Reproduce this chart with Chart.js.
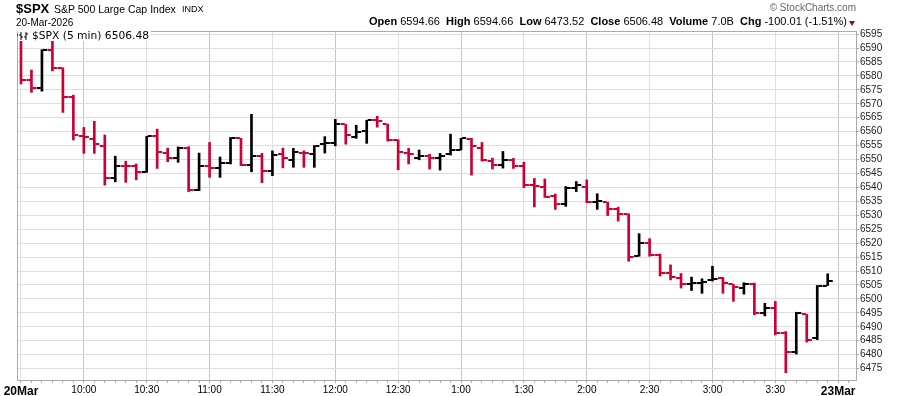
<!DOCTYPE html>
<html>
<head>
<meta charset="utf-8">
<title>$SPX 5 min</title>
<script src="https://cdn.jsdelivr.net/npm/chart.js"></script>
<style>
  body { margin: 0; background: #fff; }
  #wrap { position: relative; width: 900px; height: 396px; font-family: "Liberation Sans", Arial, sans-serif; color: #000; }
  #wrap canvas { position: absolute; left: 0; top: 0; }
  .txt { position: absolute; white-space: nowrap; line-height: 1; }
  #sym { left: 16px; top: 2px; font-size: 13px; font-weight: bold; }
  #name { left: 54px; top: 3.5px; font-size: 10.5px; }
  #exch { left: 182px; top: 5px; font-size: 9px; }
  #date { left: 16px; top: 17.5px; font-size: 10px; }
  #quote { right: 53px; top: 16px; font-size: 11px; }
  #quote b { font-weight: bold; }
  #tri { position: absolute; left: 849px; top: 21px; width: 0; height: 0; border-left: 3.5px solid transparent; border-right: 3.5px solid transparent; border-top: 5px solid #a4002a; }
  #copy { right: 44px; top: 3px; font-size: 10px; color: #666; }
  #legend { left: 18px; top: 31px; height: 10px; padding-right: 2px; background: #fff; font-family: "DejaVu Sans", Verdana, sans-serif; font-size: 10.7px; line-height: 10px; }
  #legend svg { vertical-align: top; margin-right: 2px; }
</style>
</head>
<body>
<div id="wrap">
  <canvas id="ohlcChart" width="900" height="396"></canvas>
  <div class="txt" id="sym">$SPX</div>
  <div class="txt" id="name">S&amp;P 500 Large Cap Index</div>
  <div class="txt" id="exch">INDX</div>
  <div class="txt" id="date">20-Mar-2026</div>
  <div class="txt" id="copy">&copy; StockCharts.com</div>
  <div class="txt" id="quote"><b>Open</b> 6594.66&nbsp; <b>High</b> 6594.66&nbsp; <b>Low</b> 6473.52&nbsp; <b>Close</b> 6506.48&nbsp; <b>Volume</b> 7.0B&nbsp; <b>Chg</b> -100.01 (-1.51%)</div>
  <div id="tri"></div>
  <div class="txt" id="legend"><svg width="12" height="10"><path d="M3 1v8M1 4h2M3 6h2M8 1v8M6 6h2M8 3h2" stroke="#000" stroke-width="1" fill="none"/></svg>$SPX (5 min) 6506.48</div>
</div>
<script>
  // 5 minute bars, 9:30 to 3:55, index 0..77
  const opens = [
    6594.66, 6578.6, 6575.7, 6589.4, 6582.7, 6572.5, 6558.3, 6557.3, 6554.9, 6543.2,
    6547.8, 6547.6, 6545.6, 6558.3, 6552.2, 6550.7, 6554.0, 6539.1, 6547.8, 6546.8,
    6548.6, 6557.6, 6548.0, 6551.1, 6546.0, 6551.8, 6549.9, 6552.4, 6552.0, 6555.5,
    6556.1, 6562.6, 6558.2, 6560.1, 6564.0, 6562.6, 6557.1, 6552.5, 6550.4, 6551.1,
    6550.4, 6551.8, 6553.5, 6557.3, 6554.3, 6549.6, 6548.2, 6549.9, 6547.5, 6540.8,
    6540.3, 6537.0, 6534.1, 6539.6, 6540.3, 6534.7, 6534.7, 6532.3, 6530.4, 6515.3,
    6519.9, 6515.6, 6509.4, 6507.4, 6505.4, 6505.8, 6506.6, 6507.4, 6505.2, 6503.9,
    6505.5, 6494.9, 6496.7, 6487.6, 6481.1, 6494.5, 6485.9, 6504.8
  ];
  const highs = [
    6594.66, 6582.1, 6589.4, 6592.8, 6582.9, 6573.1, 6561.5, 6563.7, 6558.8, 6551.2,
    6549.4, 6548.4, 6558.3, 6560.9, 6554.1, 6554.5, 6554.6, 6552.3, 6556.1, 6550.9,
    6557.9, 6557.6, 6566.2, 6552.2, 6553.1, 6554.1, 6554.0, 6553.1, 6555.0, 6558.2,
    6564.4, 6562.6, 6562.3, 6564.1, 6565.5, 6562.7, 6557.1, 6554.0, 6553.4, 6551.9,
    6552.2, 6559.1, 6557.6, 6557.6, 6556.1, 6550.5, 6552.9, 6550.4, 6549.0, 6543.2,
    6543.0, 6537.6, 6540.3, 6542.1, 6542.7, 6537.7, 6534.7, 6532.9, 6530.5, 6523.4,
    6521.6, 6516.1, 6512.2, 6509.1, 6507.8, 6507.2, 6511.7, 6507.7, 6505.3, 6505.8,
    6505.7, 6498.4, 6499.1, 6488.3, 6495.2, 6494.5, 6504.8, 6509.0
  ];
  const lows = [
    6577.1, 6574.1, 6574.5, 6581.8, 6566.9, 6557.0, 6552.2, 6552.2, 6540.8, 6542.0,
    6541.8, 6542.7, 6545.4, 6546.8, 6549.2, 6549.0, 6538.5, 6538.8, 6543.6, 6543.6,
    6548.4, 6547.8, 6545.6, 6541.7, 6544.2, 6547.0, 6547.2, 6547.2, 6547.2, 6552.3,
    6554.9, 6555.5, 6557.6, 6555.8, 6561.6, 6556.6, 6546.3, 6548.4, 6549.9, 6546.6,
    6546.2, 6551.6, 6553.4, 6544.4, 6549.4, 6546.6, 6546.9, 6546.8, 6539.9, 6533.0,
    6536.4, 6532.1, 6533.2, 6538.5, 6534.5, 6532.1, 6529.9, 6527.9, 6513.5, 6515.3,
    6515.3, 6508.2, 6506.8, 6503.9, 6503.0, 6502.0, 6506.4, 6502.0, 6499.1, 6501.7,
    6494.3, 6493.9, 6487.1, 6473.52, 6480.2, 6484.5, 6485.4, 6504.8
  ];
  const closes = [
    6578.6, 6575.7, 6589.4, 6583.0, 6572.5, 6558.8, 6557.9, 6555.5, 6543.2, 6547.8,
    6547.6, 6545.6, 6558.3, 6552.8, 6550.7, 6554.1, 6539.1, 6547.8, 6546.8, 6548.6,
    6557.8, 6548.0, 6551.3, 6546.0, 6551.6, 6550.4, 6552.6, 6552.2, 6555.0, 6556.1,
    6562.6, 6558.8, 6560.0, 6564.0, 6563.7, 6557.1, 6552.8, 6552.0, 6551.1, 6550.4,
    6551.3, 6553.5, 6557.6, 6554.7, 6549.7, 6548.2, 6549.8, 6547.8, 6540.8, 6540.5,
    6536.6, 6534.1, 6539.9, 6540.7, 6534.7, 6535.1, 6532.3, 6530.4, 6515.2, 6519.9,
    6515.8, 6509.4, 6507.7, 6505.5, 6505.6, 6506.0, 6507.2, 6505.8, 6504.2, 6505.5,
    6494.9, 6496.7, 6487.6, 6481.1, 6495.0, 6485.2, 6504.6, 6506.48
  ];
  // one label every 6 bars (30 min)
  const timeLabels = ['20Mar', '10:00', '10:30', '11:00', '11:30', '12:00', '12:30',
                      '1:00', '1:30', '2:00', '2:30', '3:00', '3:30', '23Mar'];

  const RED = '#cc0033';
  const BLACK = '#000000';
  const barColors = closes.map((c, i) => c < opens[i] ? RED : BLACK);

  // little open/close tick images, drawn centered on the bar's x
  function tickImage(color, side) {
    const c = document.createElement('canvas');
    c.width = 14; c.height = 2;
    const g = c.getContext('2d');
    g.fillStyle = color;
    g.fillRect(side === 'left' ? 2 : 8, 0, 4, 2);
    return c;
  }
  const openTick = { [RED]: tickImage(RED, 'left'), [BLACK]: tickImage(BLACK, 'left') };
  const closeTick = { [RED]: tickImage(RED, 'right'), [BLACK]: tickImage(BLACK, 'right') };

  const tickVal = ctx => (ctx && ctx.tick ? ctx.tick.value : NaN);

  // left and top edges of the plot frame
  const frame = {
    id: 'frame',
    beforeDatasetsDraw(chart) {
      const { ctx, chartArea: a } = chart;
      ctx.save();
      ctx.strokeStyle = '#aaaaaa';
      ctx.lineWidth = 1;
      ctx.beginPath();
      ctx.moveTo(a.left + 0.5, a.bottom);
      ctx.lineTo(a.left + 0.5, a.top + 0.5);
      ctx.lineTo(a.right, a.top + 0.5);
      ctx.stroke();
      ctx.restore();
    }
  };

  new Chart(document.getElementById('ohlcChart'), {
    data: {
      datasets: [
        {
          type: 'scatter',
          label: 'open',
          data: opens.map((o, i) => ({ x: i, y: o })),
          pointStyle: barColors.map(c => openTick[c]),
          pointRadius: 1,
          order: 1
        },
        {
          type: 'scatter',
          label: 'close',
          data: closes.map((c, i) => ({ x: i, y: c })),
          pointStyle: barColors.map(c => closeTick[c]),
          pointRadius: 1,
          order: 1
        },
        {
          type: 'bar',
          label: 'range',
          data: lows.map((l, i) => ({ x: i, y: [l, highs[i]] })),
          backgroundColor: barColors,
          borderWidth: 0,
          barThickness: 2,
          order: 2
        }
      ]
    },
    options: {
      responsive: false,
      animation: false,
      devicePixelRatio: 1,
      events: [],
      layout: { padding: { left: 17, top: 31, right: 0, bottom: 0 } },
      plugins: { legend: { display: false }, tooltip: { enabled: false } },
      scales: {
        x: {
          type: 'linear',
          min: -0.38,
          max: 79.7,
          offset: false,
          afterFit: s => { s.height = 16; },
          border: { color: '#aaaaaa' },
          grid: {
            offset: false,
            color: ctx => {
              const v = tickVal(ctx);
              if (isNaN(v) || v % 6 !== 0) return 'rgba(0,0,0,0)';
              return (v - 6) % 12 === 0 ? '#c6c6c6' : '#e0e0e0';
            },
            tickColor: '#aaaaaa',
            tickLength: 3
          },
          ticks: {
            stepSize: 1,
            autoSkip: false,
            includeBounds: false,
            maxRotation: 0,
            padding: 1,
            color: '#000',
            font: ctx => {
              const edge = tickVal(ctx) % 78 === 0;
              return {
                family: '"Liberation Sans", Arial, sans-serif',
                size: edge ? 12 : 10,
                weight: edge ? 'bold' : 'normal'
              };
            },
            callback: v => (v % 6 === 0 ? timeLabels[v / 6] : '')
          }
        },
        y: {
          type: 'linear',
          position: 'right',
          min: 6470.9,
          max: 6596.1,
          afterFit: s => { s.width = 44; },
          border: { color: '#aaaaaa' },
          grid: { color: '#dddddd', tickColor: '#aaaaaa', tickLength: 3 },
          ticks: {
            stepSize: 5,
            autoSkip: false,
            includeBounds: false,
            padding: 1,
            color: '#222',
            font: { family: '"Liberation Sans", Arial, sans-serif', size: 10 },
            callback: v => String(v)
          }
        }
      }
    },
    plugins: [frame]
  });
</script>
</body>
</html>
